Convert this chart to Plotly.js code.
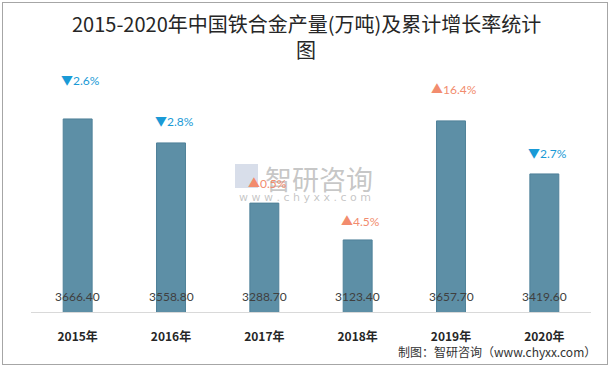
<!DOCTYPE html>
<html>
<head>
<meta charset="utf-8">
<script src="https://cdn.plot.ly/plotly-3.0.1.min.js"></script>
<style>
html,body{margin:0;padding:0;background:#fff;}
#wrap{position:relative;width:611px;height:369px;}
#chart{width:611px;height:369px;}
#frame{position:absolute;left:2px;top:2px;width:604px;height:361px;border:1px solid #a6a6a6;pointer-events:none;}
</style>
</head>
<body>
<div id="wrap"><div id="chart"></div><div id="frame"></div></div>
<script>
// ---- data ----
const years = ['2015年','2016年','2017年','2018年','2019年','2020年'];
const output = [3666.40, 3558.80, 3288.70, 3123.40, 3657.70, 3419.60];
const growth = [-2.6, -2.8, 0.5, 4.5, 16.4, -2.7];
const titleLines = ['2015-2020年中国铁合金产量(万吨)及累计增长率统计', '图'];

// ---- styling helpers ----
const labelLift = [29, 12, 10, 9, 22, 11];
const upColor = '#f28c6e', downColor = '#1a9ad6';
const PT = 60, PB = 312, PL = 31, PR = 591;
const py = px => (PB - px) / (PB - PT);
const pxX = px => (px - PL) / (PR - PL);

const bar = {
  type: 'bar', x: years, y: output,
  base: 0,
  marker: {color: '#5d8fa6', line: {color: '#4f8199', width: 1}},
  width: 0.31, hoverinfo: 'x+y'
};

const annotations = [];
// watermark (drawn first so labels sit over it)
annotations.push({xref:'paper', yref:'paper', x:pxX(263), y:py(178), xanchor:'left', yanchor:'middle',
  text:'智研咨询', showarrow:false, font:{family:'"Noto Sans CJK SC", sans-serif', size:27, color:'rgba(150,150,150,0.55)'}});
const wm = 'www.chyxx.com'.split('').join('\u00a0');
annotations.push({xref:'paper', yref:'paper', x:pxX(305), y:py(197), xanchor:'center', yanchor:'middle',
  text: wm, showarrow:false, font:{family:'"DejaVu Sans", sans-serif', size:11, color:'rgba(160,160,160,0.6)'}});
years.forEach((c, i) => {
  annotations.push({
    x: c, y: output[i], xref: 'x', yref: 'y', yanchor: 'bottom', yshift: labelLift[i], xshift: 3,
    text: (growth[i] < 0 ? '▼' : '▲') + Math.abs(growth[i]).toFixed(1) + '%',
    showarrow: false,
    font: {family: 'Lato, "Noto Sans CJK SC", sans-serif', size: 12, color: growth[i] < 0 ? downColor : upColor}
  });
  annotations.push({
    x: c, y: 0, xref: 'x', yref: 'paper', yanchor: 'bottom', yshift: 6,
    text: output[i].toFixed(2), showarrow: false,
    font: {family: 'Lato, "Noto Sans", sans-serif', size: 12, color: '#404040'}
  });
});
// title (two lines)
[23, 50].forEach((yy, k) => annotations.push({
  xref: 'paper', yref: 'paper', x: pxX(306), y: py(yy), xanchor: 'center', yanchor: 'middle',
  text: titleLines[k], showarrow: false,
  font: {family: '"Noto Sans CJK SC", serif', size: 20, color: '#262626'}
}));
// source
annotations.push({xref:'paper', yref:'paper', x:pxX(598), y:py(352), xanchor:'right', yanchor:'middle',
  text:'制图：智研咨询（www.chyxx.com）', showarrow:false, font:{family:'"Noto Sans CJK SC", sans-serif', size:12, color:'#333'}});

const layout = {
  width: 611, height: 369,
  margin: {l: PL, r: 611 - PR, t: PT, b: 369 - PB},
  paper_bgcolor: '#fff', plot_bgcolor: '#fff',
  xaxis: {
    type: 'category', showgrid: false, zeroline: false,
    showline: true, linecolor: '#d9d9d9', linewidth: 1,
    ticks: 'outside', ticklen: 14, tickcolor: 'rgba(0,0,0,0)',
    tickfont: {family: '"Noto Sans CJK SC", sans-serif', size: 12, color: '#262626', weight: 'bold'}
  },
  yaxis: {range: [2800, 3931], visible: false, fixedrange: true},
  showlegend: false,
  shapes: [
    {type:'rect', xref:'paper', yref:'paper', x0:pxX(235), x1:pxX(258), y0:py(188), y1:py(164),
     fillcolor:'rgba(190,200,220,0.6)', line:{width:0}}
  ],
  annotations: annotations
};

Plotly.newPlot('chart', [bar], layout, {displayModeBar: false, staticPlot: true});
</script>
</body>
</html>
